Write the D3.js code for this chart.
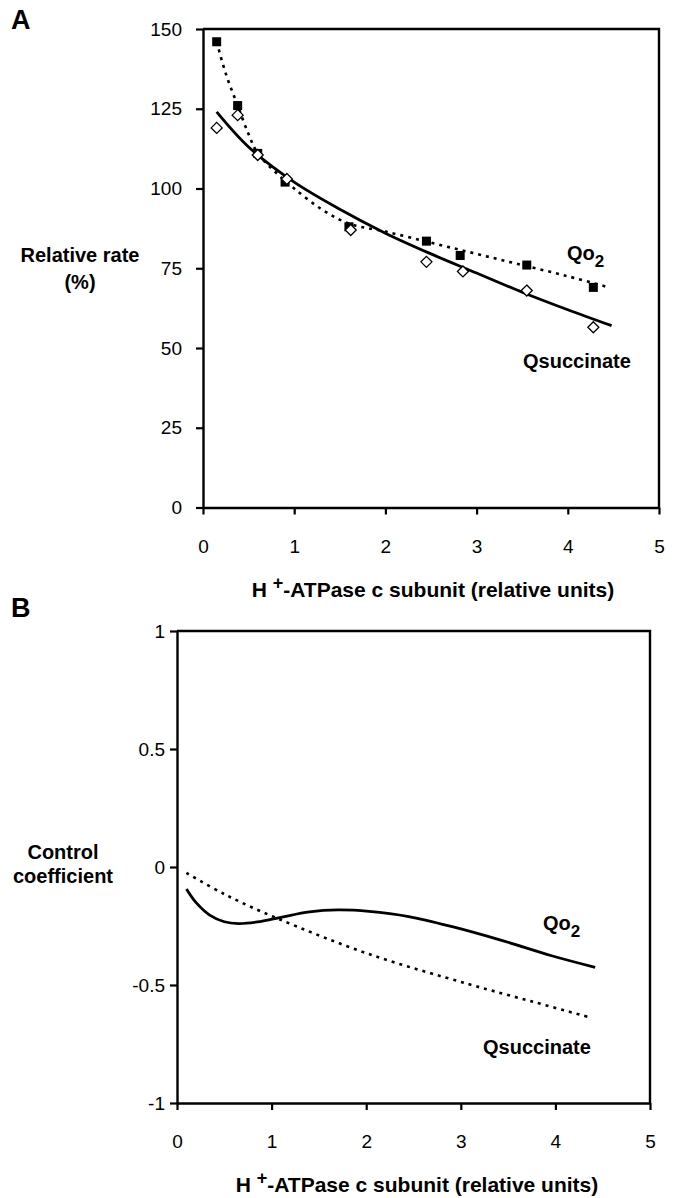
<!DOCTYPE html>
<html>
<head>
<meta charset="utf-8">
<script src="https://cdn.jsdelivr.net/npm/d3@7"></script>
<style>
  body { margin: 0; background: #fff; }
  svg { display: block; font-family: "Liberation Sans", Arial, Helvetica, sans-serif; }
  .bold { font-weight: bold; }
</style>
</head>
<body>
<svg id="svg" width="676" height="1198"></svg>
<script>
// ---- data: panel A (measured points) ----
const qo2X = [0.15, 0.38, 0.6, 0.9, 1.6, 2.45, 2.82, 3.55, 4.28];
const qo2Y = [146, 126, 111, 102, 88, 83.5, 79, 76, 69];
const succX = [0.15, 0.38, 0.6, 0.92, 1.62, 2.45, 2.85, 3.55, 4.28];
const succY = [119, 123, 110.5, 103, 87, 77, 74, 68, 56.5];

// panel A fitted curves
const fitQo2X = [0.15, 0.25, 0.38, 0.5, 0.6, 0.8, 1.0, 1.3, 1.6, 2.0, 2.5, 3.0, 3.5, 4.0, 4.45];
const fitQo2Y = [146, 136, 126, 117, 111, 105, 100, 93.5, 89, 86.5, 83, 79.5, 76, 72.5, 69];
const fitSuccX = [0.15, 0.5, 1.0, 1.5, 2.0, 2.5, 3.0, 3.5, 4.0, 4.48];
const fitSuccY = [124, 113, 102, 93.5, 86, 79.5, 73.5, 67.5, 62, 57];

// ---- data: panel B (control coefficients) ----
const ccQo2X = [0.1, 0.2, 0.35, 0.5, 0.65, 0.85, 1.1, 1.4, 1.7, 2.03, 2.45, 2.91, 3.44, 3.96, 4.42];
const ccQo2Y = [-0.093, -0.15, -0.205, -0.232, -0.24, -0.233, -0.213, -0.19, -0.182, -0.188, -0.21, -0.253, -0.312, -0.376, -0.425];
const ccSuccX = [0.1, 0.5, 1.05, 2.03, 3.08, 3.79, 4.37];
const ccSuccY = [-0.025, -0.115, -0.216, -0.369, -0.496, -0.574, -0.638];

const xTicks = [0, 1, 2, 3, 4, 5];
const yTicksA = [0, 25, 50, 75, 100, 125, 150];
const yTicksB = [-1, -0.5, 0, 0.5, 1];

const svg = d3.select("#svg");
const zip = (xs, ys) => xs.map((x, i) => [x, ys[i]]);

function frame(cfg) {
    const x = d3.scaleLinear().domain([0, 5]).range([cfg.left, cfg.right]);
    const y = d3.scaleLinear().domain(cfg.yDomain).range([cfg.bottom, cfg.top]);
    const g = svg.append("g");
    // top and right border
    g.append("path")
        .attr("d", `M${cfg.left},${cfg.top}H${cfg.right}V${cfg.bottom}`)
        .attr("fill", "none").attr("stroke", "#000").attr("stroke-width", 2.4);
    const ax = g.append("g").attr("transform", `translate(0,${cfg.bottom})`)
        .call(d3.axisBottom(x).tickValues(xTicks).tickSize(7).tickSizeOuter(0).tickPadding(25).tickFormat(d => String(d)));
    const ay = g.append("g").attr("transform", `translate(${cfg.left},0)`)
        .call(d3.axisLeft(y).tickValues(cfg.yTicks).tickSize(7).tickSizeOuter(0).tickPadding(cfg.ypad).tickFormat(d => String(d)));
    [ax, ay].forEach(a => {
        a.attr("font-family", null).attr("font-size", null);
        a.select(".domain").attr("stroke-width", 2.4);
        a.selectAll(".tick line").attr("stroke-width", 2.2);
        a.selectAll(".tick text").attr("fill", "#000").attr("font-size", 19).style("font-size", "19px");
    });
    return { x, y, g };
}

function curve(p, xs, ys, dashed) {
    const line = d3.line().x(d => p.x(d[0])).y(d => p.y(d[1])).curve(d3.curveCatmullRom.alpha(0.5));
    p.g.append("path")
        .attr("d", line(zip(xs, ys)))
        .attr("fill", "none").attr("stroke", "#000")
        .attr("stroke-width", dashed ? 2.6 : 2.8)
        .attr("stroke-dasharray", dashed ? "3,5" : null);
}

function label(x, y, txt, sub) {
    const t = svg.append("text").attr("class", "bold").attr("x", x).attr("y", y)
        .style("font-size", "20px").text(txt);
    if (sub) t.append("tspan").attr("dy", 7).style("font-size", "17px").text(sub);
}

function text(x, y, txt, size) {
    svg.append("text").attr("class", "bold").attr("x", x).attr("y", y)
        .attr("text-anchor", "middle").style("font-size", size + "px").text(txt);
}

function xTitle(cx, y) {
    const t = svg.append("text").attr("class", "bold").attr("x", cx).attr("y", y)
        .attr("text-anchor", "middle").style("font-size", "21px");
    t.append("tspan").text("H ");
    t.append("tspan").attr("dy", -8).style("font-size", "18px").text("+");
    t.append("tspan").attr("dy", 8).text("-ATPase c subunit (relative units)");
}

// ---- panel A ----
const A = frame({ left: 203, right: 659, top: 29, bottom: 507.5, yDomain: [0, 150], yTicks: yTicksA, ypad: 14 });
curve(A, fitQo2X, fitQo2Y, true);
curve(A, fitSuccX, fitSuccY, false);
A.g.selectAll("rect.sq").data(zip(qo2X, qo2Y)).join("rect")
    .attr("x", d => A.x(d[0]) - 4.5).attr("y", d => A.y(d[1]) - 4.5)
    .attr("width", 9).attr("height", 9).attr("fill", "#000");
A.g.selectAll("path.dm").data(zip(succX, succY)).join("path")
    .attr("transform", d => `translate(${A.x(d[0])},${A.y(d[1])})`)
    .attr("d", "M0,-5.5L5.5,0L0,5.5L-5.5,0Z")
    .attr("fill", "#fff").attr("stroke", "#000").attr("stroke-width", 1.3);

svg.append("text").attr("class", "bold").attr("x", 11).attr("y", 29).style("font-size", "27px").text("A");
text(80, 262, "Relative rate", 20);
text(80, 289, "(%)", 20);
label(567, 260, "Qo", "2");
label(523, 368, "Qsuccinate");
xTitle(433, 597);

// ---- panel B ----
const B = frame({ left: 177, right: 650, top: 631, bottom: 1103, yDomain: [-1, 1], yTicks: yTicksB, ypad: 5 });
curve(B, ccSuccX, ccSuccY, true);
curve(B, ccQo2X, ccQo2Y, false);

svg.append("text").attr("class", "bold").attr("x", 11).attr("y", 617).style("font-size", "27px").text("B");
text(63, 859, "Control", 20);
text(63, 883, "coefficient", 20);
label(543, 930, "Qo", "2");
label(483, 1054, "Qsuccinate");
xTitle(417, 1192);
</script>
</body>
</html>
